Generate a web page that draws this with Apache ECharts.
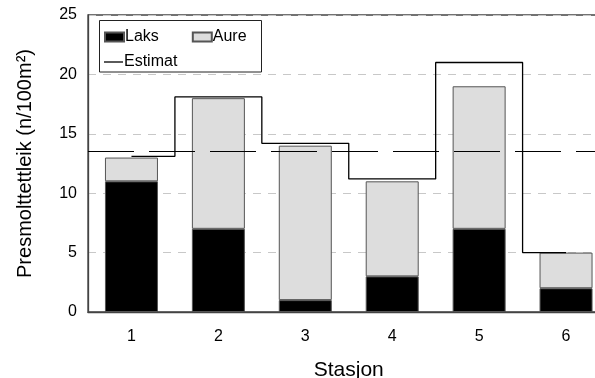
<!DOCTYPE html>
<html>
<head>
<meta charset="utf-8">
<script src="https://cdn.jsdelivr.net/npm/echarts@6/dist/echarts.min.js"></script>
<style>html,body{margin:0;padding:0;background:#fff}#c{width:595px;height:378px}</style>
</head>
<body>
<div id="c"></div>
<script>
const categories = ['1', '2', '3', '4', '5', '6'];
const laks = [11, 7, 1, 3, 7, 2];
const aure = [2, 11, 13, 8, 12, 3];
const estimat = [13.1, 18.1, 14.2, 11.2, 21.0, 5.0];
const meanLevel = 13.55;
const yMin = 0, yMax = 25, yStep = 5;

const FONT = "'Liberation Sans', Arial, sans-serif";
const chart = echarts.init(document.getElementById('c'), null, {renderer: 'canvas'});
chart.setOption({
  animation: false,
  backgroundColor: '#fff',
  textStyle: {fontFamily: FONT, color: '#000'},
  grid: {left: 88, top: 15, right: -14.5, bottom: 66, outerBoundsMode: 'none', containLabel: false,
    show: true, borderColor: '#444', borderWidth: 1.3, backgroundColor: 'transparent'},
  legend: [
    {
      data: ['Laks', 'Aure'], left: 104, top: 29, padding: 0, itemGap: 33,
      itemWidth: 19, itemHeight: 9, icon: 'rect',
      textStyle: {fontFamily: FONT, fontSize: 16, color: '#000', padding: [0, 0, 0, -4]}
    },
    {
      data: [{name: 'Estimat', icon: 'rect'}], left: 104, top: 54, padding: 0,
      itemWidth: 19, itemHeight: 1.3,
      textStyle: {fontFamily: FONT, fontSize: 16, color: '#000', padding: [0, 0, 0, -4]}
    }
  ],
  graphic: [{
    type: 'rect', shape: {x: 99.5, y: 20.5, width: 162, height: 51.5},
    style: {fill: 'none', stroke: '#222', lineWidth: 1}, z: 100
  }],
  xAxis: {
    type: 'category', data: categories,
    name: 'Stasjon', nameLocation: 'middle', nameGap: 48,
    nameTextStyle: {fontFamily: FONT, fontSize: 21, color: '#000'},
    axisLine: {lineStyle: {color: '#444', width: 1.3}},
    axisTick: {alignWithLabel: true, length: 7, lineStyle: {color: '#444', width: 1.3}},
    axisLabel: {fontFamily: FONT, fontSize: 16, color: '#000', margin: 17},
    splitLine: {show: false}
  },
  yAxis: {
    type: 'value', min: yMin, max: yMax, interval: yStep,
    name: 'Presmolttettleik (n/100m²)', nameLocation: 'middle', nameGap: 53,
    nameTextStyle: {fontFamily: FONT, fontSize: 20, color: '#000'},
    axisLine: {show: true, lineStyle: {color: '#444', width: 1.3}},
    axisTick: {show: false},
    axisLabel: {fontFamily: FONT, fontSize: 16, color: '#000', margin: 11},
    splitLine: {show: true, lineStyle: {color: '#c8c8c8', type: [8, 7], width: 1}}
  },
  series: [
    {
      name: 'Laks', type: 'bar', stack: 'tot', data: laks, barWidth: 53,
      itemStyle: {color: '#000', borderColor: '#555', borderWidth: 1}
    },
    {
      name: 'Aure', type: 'bar', stack: 'tot', data: aure, barWidth: 53,
      itemStyle: {color: '#dddddd', borderColor: '#555', borderWidth: 1}
    },
    {
      name: 'Estimat', type: 'line', step: 'middle', data: estimat,
      symbol: 'none', z: 5,
      lineStyle: {color: '#000', width: 1.3}, itemStyle: {color: '#000'},
      markLine: {
        silent: true, symbol: 'none', label: {show: false},
        lineStyle: {color: '#000', width: 1.2, type: [46, 15]},
        data: [{yAxis: meanLevel}]
      }
    }
  ]
});
</script>
</body>
</html>
